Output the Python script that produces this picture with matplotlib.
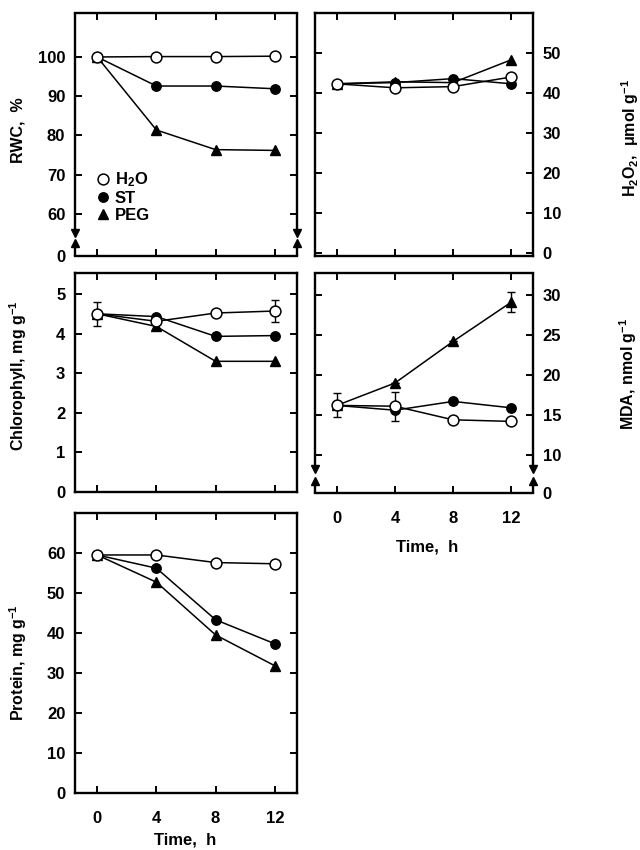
import numpy as np
import matplotlib.pyplot as plt
from matplotlib.lines import Line2D

plt.rcParams['font.family'] = ['Liberation Sans', 'DejaVu Sans']
plt.rcParams['font.weight'] = 'bold'
plt.rcParams['mathtext.fontset'] = 'custom'
plt.rcParams['mathtext.rm'] = 'Liberation Sans:bold'
plt.rcParams['mathtext.it'] = 'Liberation Sans:bold'
plt.rcParams['mathtext.bf'] = 'Liberation Sans:bold'
plt.rcParams['mathtext.default'] = 'rm'

# time points, h
time_h = [0, 4, 8, 12]

# relative water content, %
rwc_h2o = [100.0, 100.1, 100.1, 100.2]
rwc_st = [100.0, 92.6, 92.6, 91.9]
rwc_peg = [100.0, 81.4, 76.4, 76.2]

# H2O2, umol g-1
h2o2_h2o = [42.3, 41.3, 41.6, 44.0]
h2o2_st = [42.3, 42.6, 43.6, 42.3]
h2o2_peg = [42.3, 42.8, 42.6, 48.3]

# chlorophyll, mg g-1
chl_h2o = [4.50, 4.31, 4.52, 4.57]
chl_h2o_err = [0.30, 0, 0, 0.28]
chl_st = [4.50, 4.43, 3.93, 3.95]
chl_peg = [4.50, 4.18, 3.30, 3.30]

# MDA, nmol g-1
mda_h2o = [16.2, 16.1, 14.4, 14.2]
mda_h2o_err = [1.5, 1.8, 0, 0]
mda_st = [16.2, 15.6, 16.7, 15.9]
mda_peg = [16.2, 19.0, 24.2, 29.1]
mda_peg_err = [0, 0, 0, 1.25]

# protein, mg g-1
prot_h2o = [59.5, 59.5, 57.6, 57.3]
prot_st = [59.5, 56.2, 43.3, 37.3]
prot_peg = [59.5, 52.7, 39.5, 31.8]

sty_h2o = dict(marker='o', ms=7.8, mfc='white', mec='black', mew=1.1, color='black', lw=1.1)
sty_st = dict(marker='o', ms=6.8, mfc='black', mec='black', color='black', lw=1.1)
sty_peg = dict(marker='^', ms=7.5, mfc='black', mec='black', color='black', lw=1.1)

fig = plt.figure(figsize=(6.4, 8.5), dpi=100)

LW = 1.7


def make_axes(rect, right=False):
    ax = fig.add_axes(rect)
    ax.set_xlim(-1.5, 13.5)
    ax.set_xticks(time_h)
    ax.set_xticklabels([str(t) for t in time_h])
    for s in ax.spines.values():
        s.set_linewidth(LW)
    ax.tick_params(direction='in', top=True, bottom=True, left=True, right=True,
                   length=5, width=1.4, labelsize=12, pad=7,
                   labelbottom=False, labelleft=not right, labelright=right)
    ax.tick_params(axis='x', pad=13)
    return ax


def add_break(ax, lo, hi):
    # broken left/right axis with arrows
    for x in (0, 1):
        ax.spines['left' if x == 0 else 'right'].set_visible(False)
        ax.plot([x, x], [0, lo], color='black', lw=LW, transform=ax.transAxes,
                clip_on=False, solid_capstyle='butt')
        ax.plot([x, x], [hi, 1], color='black', lw=LW, transform=ax.transAxes,
                clip_on=False, solid_capstyle='butt')
        ax.plot([x], [hi], marker='v', ms=6, color='black', transform=ax.transAxes,
                clip_on=False)
        ax.plot([x], [lo], marker='^', ms=6, color='black', transform=ax.transAxes,
                clip_on=False)


def draw(ax, a, b, c, ea=None, ec=None):
    ax.plot(time_h, b, **sty_st, zorder=3)
    ax.plot(time_h, c, **sty_peg, zorder=3)
    ax.plot(time_h, a, **sty_h2o, zorder=4)
    if ea is not None:
        ax.errorbar(time_h, a, yerr=ea, fmt='none', ecolor='black', elinewidth=1,
                    capsize=3, capthick=1, zorder=2)
    if ec is not None:
        ax.errorbar(time_h, c, yerr=ec, fmt='none', ecolor='black', elinewidth=1,
                    capsize=3, capthick=1, zorder=2)


# RWC
ax1 = make_axes([0.1172, 0.6988, 0.3469, 0.2859])
draw(ax1, rwc_h2o, rwc_st, rwc_peg)
ax1.set_ylim(49.3, 111.2)
ax1.set_yticks([49.3, 60, 70, 80, 90, 100])
ax1.set_yticklabels(['0', '60', '70', '80', '90', '100'])
add_break(ax1, 0.052, 0.094)
handles = [Line2D([], [], ls='none', **{k: v for k, v in sty_h2o.items() if k != 'lw'}),
           Line2D([], [], ls='none', **{k: v for k, v in sty_st.items() if k != 'lw'}),
           Line2D([], [], ls='none', **{k: v for k, v in sty_peg.items() if k != 'lw'})]
ax1.legend(handles, ['H$_2$O', 'ST', 'PEG'], loc='upper left',
           bbox_to_anchor=(0.06, 0.385), frameon=False, handlelength=0.8,
           handletextpad=0.3, labelspacing=0.1, borderpad=0, fontsize=12)

# H2O2
ax2 = make_axes([0.4922, 0.6988, 0.3406, 0.2859], right=True)
draw(ax2, h2o2_h2o, h2o2_st, h2o2_peg)
ax2.set_ylim(-0.75, 60)
ax2.set_yticks([0, 10, 20, 30, 40, 50])

# chlorophyll
ax3 = make_axes([0.1172, 0.4212, 0.3469, 0.2576])
draw(ax3, chl_h2o, chl_st, chl_peg, ea=chl_h2o_err)
ax3.set_ylim(0, 5.53)
ax3.set_yticks([0, 1, 2, 3, 4, 5])

# MDA
ax4 = make_axes([0.4922, 0.42, 0.3406, 0.2588], right=True)
draw(ax4, mda_h2o, mda_st, mda_peg, ea=mda_h2o_err, ec=mda_peg_err)
ax4.set_ylim(5.25, 32.75)
ax4.set_yticks([5.25, 10, 15, 20, 25, 30])
ax4.set_yticklabels(['0', '10', '15', '20', '25', '30'])
ax4.tick_params(labelbottom=True)
add_break(ax4, 0.055, 0.109)

# protein
ax5 = make_axes([0.1172, 0.0671, 0.3469, 0.3294])
draw(ax5, prot_h2o, prot_st, prot_peg)
ax5.set_ylim(0, 70)
ax5.set_yticks([0, 10, 20, 30, 40, 50, 60])
ax5.tick_params(labelbottom=True)

# axis titles
fig.text(0.028, 0.847, 'RWC,  %', rotation=90, ha='center', va='center', fontsize=11.5)
fig.text(0.028, 0.558, 'Chlorophyll, mg g$^{-1}$', rotation=90, ha='center', va='center', fontsize=11.5)
fig.text(0.028, 0.22, 'Protein, mg g$^{-1}$', rotation=90, ha='center', va='center', fontsize=11.5)
fig.text(0.984, 0.838, 'H$_2$O$_2$,  μmol g$^{-1}$', rotation=90, ha='center', va='center', fontsize=11.5)
fig.text(0.981, 0.56, 'MDA, nmol g$^{-1}$', rotation=90, ha='center', va='center', fontsize=11.5)
fig.text(0.667, 0.356, 'Time,  h', ha='center', va='center', fontsize=12)
fig.text(0.29, 0.003, 'Time,  h', ha='center', va='bottom', fontsize=12)

fig.savefig('out.png', dpi=100)
